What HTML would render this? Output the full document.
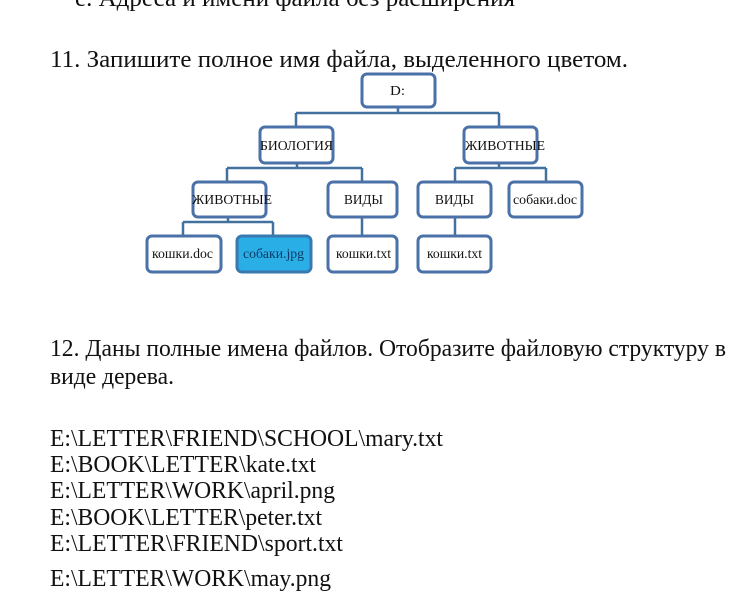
<!DOCTYPE html>
<html><head><meta charset="utf-8"><style>
html,body{margin:0;padding:0;background:#fff;width:750px;height:616px;overflow:hidden}
svg{display:block}
text{font-family:"Liberation Serif",serif;fill:#111}
</style></head><body>
<svg width="750" height="616" viewBox="0 0 750 616" xmlns="http://www.w3.org/2000/svg">
<g font-size="24">
<text x="75" y="6" textLength="440" lengthAdjust="spacingAndGlyphs">e. Адреса и имени файла без расширения</text>
<text x="50" y="67" textLength="578" lengthAdjust="spacingAndGlyphs">11. Запишите полное имя файла, выделенного цветом.</text>
<text x="50" y="356" textLength="676" lengthAdjust="spacingAndGlyphs">12. Даны полные имена файлов. Отобразите файловую структуру в</text>
<text x="50" y="384" textLength="124" lengthAdjust="spacingAndGlyphs">виде дерева.</text>
<text x="50" y="446" textLength="393" lengthAdjust="spacingAndGlyphs">E:\LETTER\FRIEND\SCHOOL\mary.txt</text>
<text x="50" y="472" textLength="266" lengthAdjust="spacingAndGlyphs">E:\BOOK\LETTER\kate.txt</text>
<text x="50" y="498" textLength="285" lengthAdjust="spacingAndGlyphs">E:\LETTER\WORK\april.png</text>
<text x="50" y="525" textLength="272" lengthAdjust="spacingAndGlyphs">E:\BOOK\LETTER\peter.txt</text>
<text x="50" y="551" textLength="293" lengthAdjust="spacingAndGlyphs">E:\LETTER\FRIEND\sport.txt</text>
<text x="50" y="586" textLength="281" lengthAdjust="spacingAndGlyphs">E:\LETTER\WORK\may.png</text>
</g>
<g stroke="#41719c" stroke-width="2.5" fill="none">
<path d="M398 107V113M296 113H499M296 113V127M499 113V127"/>
<path d="M297 163V168M227 168H362M227 168V182M362 168V182"/>
<path d="M499 163V168M455 168H546M455 168V182M546 168V182"/>
<path d="M228 217V222M183 222H273M183 222V235M273 222V235"/>
<path d="M362 217V235M455 217V235"/>
</g>
<g stroke="#4a72a8" stroke-width="3" fill="#fff">
<rect x="362" y="74" width="73" height="33" rx="5"/>
<rect x="260" y="127" width="73" height="36" rx="5"/>
<rect x="464" y="127" width="73" height="36" rx="5"/>
<rect x="193" y="182" width="73" height="35" rx="5"/>
<rect x="328" y="182" width="69" height="35" rx="5"/>
<rect x="418" y="182" width="73" height="35" rx="5"/>
<rect x="509" y="182" width="73" height="35" rx="5"/>
<rect x="147" y="236" width="74" height="36" rx="5"/>
<rect x="237" y="236" width="74" height="36" rx="5" fill="#29aee6" stroke="#3a78b0"/>
<rect x="328" y="236" width="69" height="36" rx="5"/>
<rect x="418" y="236" width="73" height="36" rx="5"/>
</g>
<g font-size="14" lengthAdjust="spacingAndGlyphs">
<text x="390" y="95" textLength="15" lengthAdjust="spacingAndGlyphs">D:</text>
<text x="260" y="150" textLength="73" lengthAdjust="spacingAndGlyphs">БИОЛОГИЯ</text>
<text x="465" y="150" textLength="80" lengthAdjust="spacingAndGlyphs">ЖИВОТНЫЕ</text>
<text x="192" y="204" textLength="80" lengthAdjust="spacingAndGlyphs">ЖИВОТНЫЕ</text>
<text x="344" y="204" textLength="39" lengthAdjust="spacingAndGlyphs">ВИДЫ</text>
<text x="435" y="204" textLength="39" lengthAdjust="spacingAndGlyphs">ВИДЫ</text>
<text x="513" y="204" textLength="64" lengthAdjust="spacingAndGlyphs">собаки.doc</text>
<text x="152" y="258" textLength="61" lengthAdjust="spacingAndGlyphs">кошки.doc</text>
<text x="243" y="258" textLength="61" lengthAdjust="spacingAndGlyphs" style="fill:#0d3a66">собаки.jpg</text>
<text x="336" y="258" textLength="55" lengthAdjust="spacingAndGlyphs">кошки.txt</text>
<text x="427" y="258" textLength="55" lengthAdjust="spacingAndGlyphs">кошки.txt</text>
</g>
</svg>
</body></html>
